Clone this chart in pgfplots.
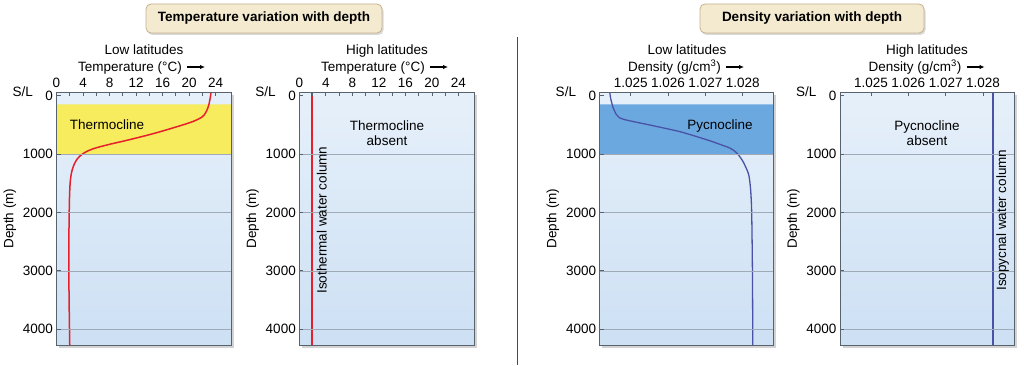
\documentclass[border=0pt]{standalone}
\usepackage{pgfplots}
\pgfplotsset{compat=1.18}
\usepackage{pgfplotstable}
\usepackage{fontspec}
\setmainfont{Liberation Sans}
\usetikzlibrary{shadows,arrows.meta}
\definecolor{bgtop}{HTML}{E6F0FA}
\definecolor{bgbot}{HTML}{CDE0F4}
\definecolor{thermo}{HTML}{F7EB5E}
\definecolor{pycno}{HTML}{6BA8E0}
\definecolor{tred}{HTML}{E5202B}
\definecolor{dblue}{HTML}{4A52A6}
\definecolor{framec}{HTML}{58626C}
\definecolor{gridc}{HTML}{9FAAB6}
\definecolor{boxfill}{HTML}{F4EAD0}
\definecolor{boxdraw}{HTML}{C5B08A}
\definecolor{sepc}{HTML}{4A4A4A}

\pgfplotstableread{
depth temp
-60 23.3
0 23.25
150 23.0
250 22.7
330 22.3
372 21.9
420 21.1
469 20.0
550 17.7
640 15.0
720 12.3
783 10.0
830 8.2
870 6.8
905 5.7
940 4.9
980 4.2
1030 3.6
1090 3.1
1170 2.7
1260 2.4
1360 2.2
1480 2.07
1620 2.0
1900 1.93
2700 1.85
3500 1.9
4270 2.0
}\lowtemp

\pgfplotstableread{
depth rho
-60 1.02444
40 1.02446
210 1.02453
330 1.02462
380 1.02470
413 1.02484
450 1.02510
498 1.02546
611 1.02627
700 1.02675
783 1.02716
850 1.02745
897 1.02765
950 1.02778
1012 1.02788
1100 1.02798
1183 1.02805
1354 1.02816
1600 1.02821
2000 1.02824
3000 1.02826
4270 1.02827
}\lowrho

\newcommand{\fs}{\fontsize{13.5}{16}\selectfont}

\pgfplotsset{
  panel/.style={
    scale only axis, height=253pt,
    anchor=south west,
    y dir=reverse, ymin=-60, ymax=4270,
    ytick={1000,2000,3000,4000},
    extra y ticks={0}, extra y tick style={grid=none},
    ymajorgrids, grid style={gridc, line width=0.6pt},
    xtick pos=right, xticklabel pos=right, ytick pos=left,
    tick align=inside,
    major tick length=4pt, minor tick length=4pt,
    tick style={framec, line width=0.7pt},
    axis line style={framec, line width=0.9pt},
    ticklabel style={font=\fs},
    xticklabel style={yshift=1pt},
    /pgf/number format/assume math mode=true,
    /pgf/number format/1000 sep={},
    ylabel={Depth (m)}, ylabel style={font=\fs},
    axis on top,
    axis background/.style={shade, top color=bgtop, bottom color=bgbot,
      drop shadow={shadow xshift=2.5pt, shadow yshift=-2.5pt, opacity=0.35}},
  },
  tpanel/.style={panel, xmin=0, xmax=26.4, xtick={0,4,...,24}, minor xtick={2,6,...,22}},
  dpanel/.style={panel, xmin=1.02417, xmax=1.02883,
    xtick={1.025,1.026,1.027,1.028}, xticklabels={1.025,1.026,1.027,1.028}},
}

\begin{document}
\begin{tikzpicture}[x=1pt,y=1pt]
\useasboundingbox (0,0) rectangle (1024,365);

% Panel 1
\begin{axis}[tpanel, at={(56.5pt,20pt)}, width=175pt]
\addplot[fill=thermo, draw=none] coordinates {(-5,150) (40,150) (40,1000) (-5,1000) (-5,150)};
\addplot[tred, line width=1.5pt, smooth, tension=0.45] table[x=temp, y=depth] {\lowtemp};
\end{axis}

% Panel 2
\begin{axis}[tpanel, at={(299.3pt,20pt)}, width=175pt]
\addplot[tred, line width=1.5pt] coordinates {(1.95,-60) (1.95,4270)};
\end{axis}

% Panel 3
\begin{axis}[dpanel, at={(599.7pt,20pt)}, width=174pt]
\addplot[fill=pycno, draw=none] coordinates {(1.020,150) (1.030,150) (1.030,1000) (1.020,1000) (1.020,150)};
\addplot[dblue, line width=1.3pt, smooth, tension=0.45] table[x=rho, y=depth] {\lowrho};
\end{axis}

% Panel 4
\begin{axis}[dpanel, at={(840pt,20pt)}, width=174pt]
\addplot[dblue, line width=1.3pt] coordinates {(1.02827,-60) (1.02827,4270)};
\end{axis}

% headers
\foreach \cx/\tx in {144/Low latitudes, 387/High latitudes, 687/Low latitudes, 927/High latitudes}
  \node[anchor=base, font=\fs, inner sep=0pt] at (\cx,310) {\tx};
\node[anchor=base, font=\fs, inner sep=0pt] at (130,293.6) {Temperature (°C)};
\node[anchor=base, font=\fs, inner sep=0pt] at (373,293.6) {Temperature (°C)};
\node[anchor=base, font=\fs, inner sep=0pt] at (674.5,293.6) {Density (g/cm\textsuperscript{3})};
\node[anchor=base, font=\fs, inner sep=0pt] at (915,293.6) {Density (g/cm\textsuperscript{3})};
\foreach \ax in {187,430,726,966.6}
  \draw[line width=1.3pt, -{Latex[length=5pt,width=4.5pt]}] (\ax,298) -- (\ax+18,298);

% S/L labels
\foreach \lx in {33,275.8,576.2,816.5}
  \node[anchor=base east, font=\fs, inner sep=0pt] at (\lx,268.5) {S/L};

% inside labels
\node[anchor=base, font=\fs, inner sep=0pt] at (107,236) {Thermocline};
\node[anchor=base, font=\fs, inner sep=0pt] at (720,236) {Pycnocline};
\node[anchor=base, font=\fs, inner sep=0pt] at (387,235) {Thermocline};
\node[anchor=base, font=\fs, inner sep=0pt] at (387,220) {absent};
\node[anchor=base, font=\fs, inner sep=0pt] at (927,235) {Pycnocline};
\node[anchor=base, font=\fs, inner sep=0pt] at (927,220) {absent};
\node[rotate=90, font=\fs, inner sep=0pt] at (321.7,145) {Isothermal water column};
\node[rotate=90, font=\fs, inner sep=0pt] at (1002.5,145) {Isopycnal water column};

% separator
\draw[sepc, line width=1.3pt] (517.3,328) -- (517.3,0);

% title boxes
\node[draw=boxdraw, fill=boxfill, rounded corners=5pt, line width=0.8pt,
  minimum width=236pt, minimum height=29pt,
  drop shadow={shadow xshift=1.5pt, shadow yshift=-2pt, opacity=0.3},
  font=\bfseries\fs] at (264,346.5) {Temperature variation with depth};
\node[draw=boxdraw, fill=boxfill, rounded corners=5pt, line width=0.8pt,
  minimum width=224pt, minimum height=29pt,
  drop shadow={shadow xshift=1.5pt, shadow yshift=-2pt, opacity=0.3},
  font=\bfseries\fs] at (812,346.5) {Density variation with depth};
\end{tikzpicture}
\end{document}
